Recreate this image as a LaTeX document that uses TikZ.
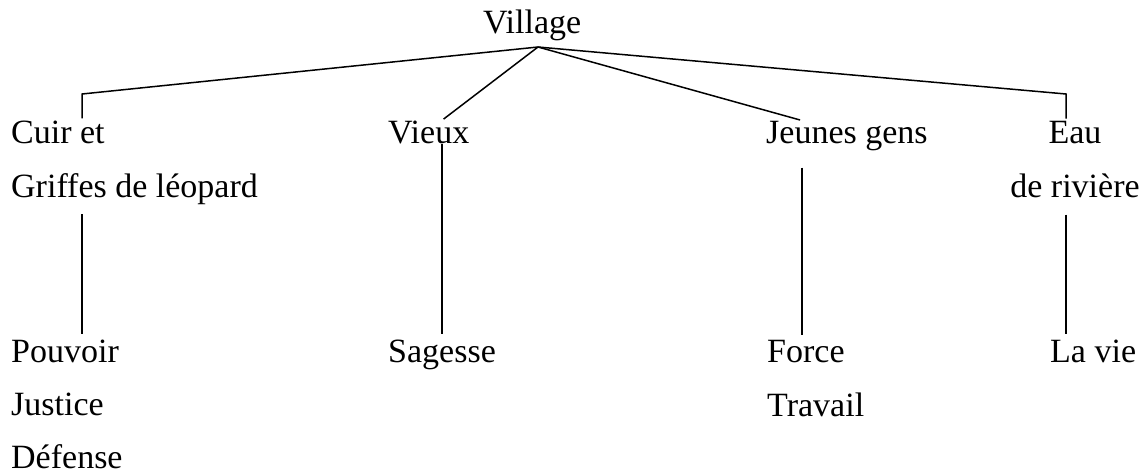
\documentclass[tikz,border=0pt]{standalone}
\usepackage{fontspec}
\setmainfont{Liberation Serif}
\usepackage{tikz}
\usetikzlibrary{calc}

\tikzset{
 word/.style={inner sep=0pt, anchor=base west, align=left, font=\fontsize{34}{54}\selectfont},
 link/.style={black, line width=1.5pt},
}

\begin{document}
\begin{tikzpicture} [x=1pt, y=-1pt]
\useasboundingbox (0,0) rectangle (1147,472);

\node[word] (village) at (483,33) {Village};
\node[word] (cuir) at (11,197) {Cuir et\\Griffes de léopard};
\node[word] (vieux) at (388,143) {Vieux};
\node[word] (jeunes) at (766,143) {Jeunes gens};
\node[word, anchor=base, align=center] (eau) at (1075,197) {Eau\\de rivière};

\node[word, font=\fontsize{34}{53}\selectfont] (pouvoir) at (11,468) {Pouvoir\\Justice\\Défense};
\node[word] (sagesse) at (388,362) {Sagesse};
\node[word] (force) at (767,416) {Force\\Travail};
\node[word] (vie) at (1050,362) {La vie};

\coordinate (top) at (538,47);
\coordinate (ka) at (82,94);
\coordinate (kv) at (442,0);
\coordinate (kj) at (802,0);
\coordinate (ke) at (1066,94);

\draw[link, shorten >=2pt] (top) -- (ka) -- (cuir.north -| ka);
\draw[link, shorten >=2pt] (top) -- (vieux.north -| kv);
\draw[link, shorten >=2pt] (top) -- (jeunes.north -| kj);
\draw[link, shorten >=2pt] (top) -- (ke) -- (eau.north -| ke);

\draw[link, shorten <=10pt, shorten >=5pt] (cuir.south -| ka) -- (pouvoir.north -| ka);
\draw[link, shorten >=5pt] (vieux.south -| kv) -- (sagesse.north -| kv);
\draw[link, shorten <=17pt, shorten >=5pt] (jeunes.south -| kj) -- (force.north -| kj);
\draw[link, shorten <=17pt, shorten >=5pt] (eau.south -| ke) -- (vie.north -| ke);

\end{tikzpicture}
\end{document}
